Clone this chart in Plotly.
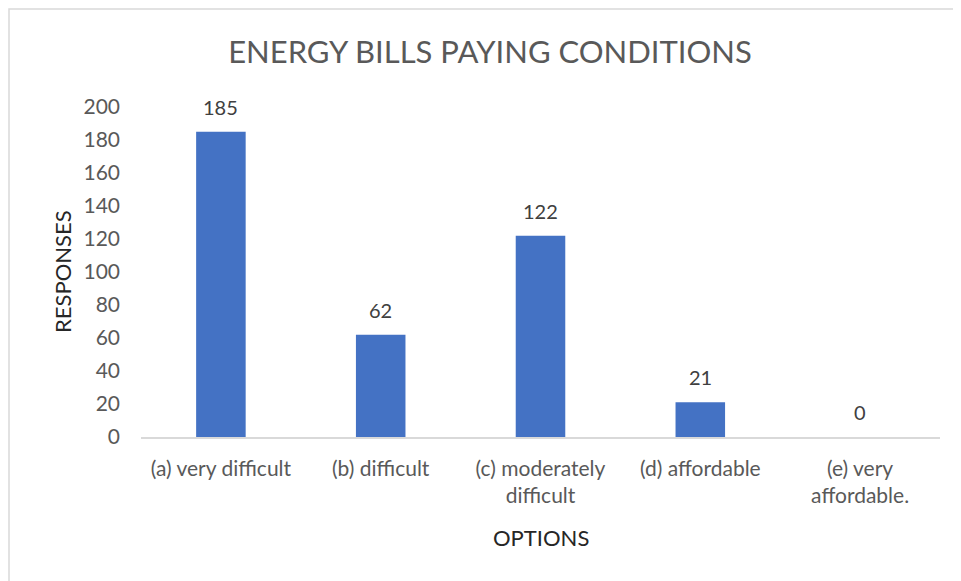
import plotly.graph_objects as go

categories = ["(a) very difficult", "(b) difficult", "(c) moderately<br>difficult", "(d) affordable", "(e) very<br>affordable."]
responses = [185, 62, 122, 21, 0]
y_ticks = [0, 20, 40, 60, 80, 100, 120, 140, 160, 180, 200]

FONT = "Lato, 'Open Sans', sans-serif"

W, H = 953, 573
L, R, T, B = 133, 21, 99, 144
PW, PH = W - L - R, H - T - B

fig = go.Figure()
fig.add_trace(go.Bar(
    x=categories, y=responses,
    marker=dict(color="#4472C4", line=dict(width=0)),
    hoverinfo="skip",
))

for c, v in zip(categories, responses):
    fig.add_annotation(x=c, y=v, text=str(v), showarrow=False,
                       yanchor="middle", yshift=25,
                       font=dict(family=FONT, size=20, color="#404040"))

# axis titles
fig.add_annotation(xref="paper", yref="paper", x=0.5, y=-100/PH, text="OPTIONS",
                   showarrow=False, xanchor="center", yanchor="middle",
                   font=dict(family=FONT, size=22, color="#262626"))
fig.add_annotation(xref="paper", yref="paper", x=(54 - L)/PW, y=0.5, text="RESPONSES",
                   showarrow=False, xanchor="center", yanchor="middle", textangle=-90,
                   font=dict(family=FONT, size=22, color="#262626"))

fig.update_layout(
    width=W, height=H,
    margin=dict(l=L, r=R, t=T, b=B),
    paper_bgcolor="white", plot_bgcolor="white",
    showlegend=False,
    bargap=0.69,
    title=dict(text="ENERGY BILLS PAYING CONDITIONS", x=(490 - 8)/W, xanchor="center",
               y=1 - (52 - 8)/H, yanchor="middle",
               font=dict(family=FONT, size=31, color="#595959")),
    xaxis=dict(showgrid=False, zeroline=False, showline=True, linecolor="#D9D9D9", linewidth=1.5,
               ticks="", ticklabelstandoff=12,
               tickfont=dict(family=FONT, size=21, color="#595959")),
    yaxis=dict(range=[0, 200], tickvals=y_ticks, showgrid=False, zeroline=False, showline=False,
               ticks="", ticklabelstandoff=20,
               tickfont=dict(family=FONT, size=21, color="#595959")),
    shapes=[dict(type="rect", xref="paper", yref="paper",
                 x0=(1 - L)/PW, x1=1.1, y0=-1.0, y1=1 + (T - 1)/PH,
                 line=dict(color="#D9D9D9", width=1.5), fillcolor="rgba(0,0,0,0)", layer="below")],
)

fig.write_html("out.html")
